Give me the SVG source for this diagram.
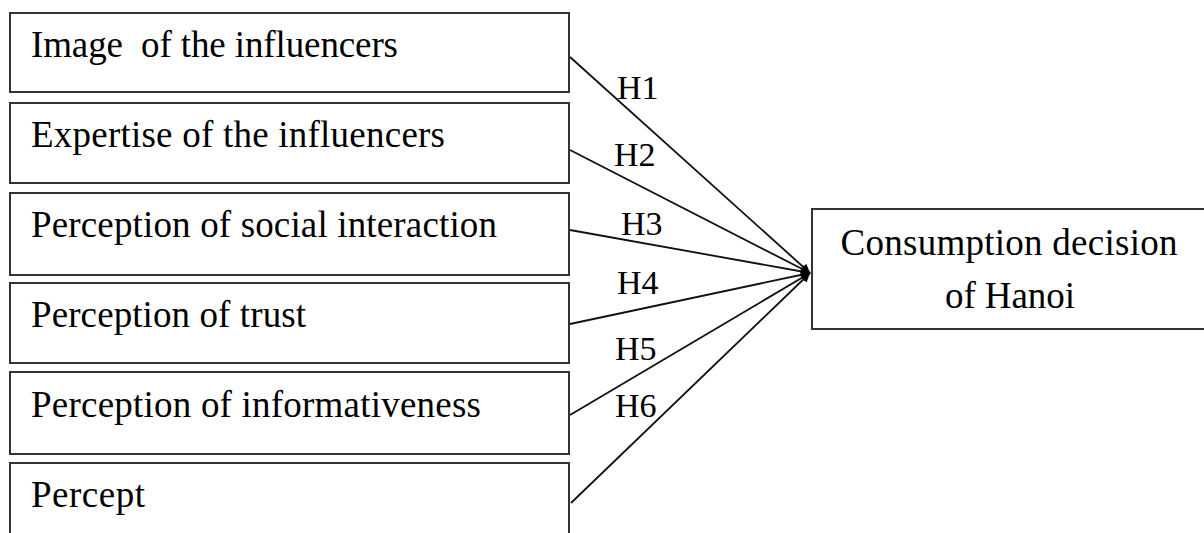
<svg xmlns="http://www.w3.org/2000/svg" width="1204" height="533" viewBox="0 0 1204 533">
  <style>
    .box { fill: #ffffff; stroke: #333333; stroke-width: 2; }
    .lbl { font-family: "Liberation Serif", "Times New Roman", serif; font-size: 37px; fill: #000000; white-space: pre; }
    .hyp { font-family: "Liberation Serif", "Times New Roman", serif; font-size: 34px; fill: #000000; }
    .edge { stroke: #111111; stroke-width: 1.8; fill: none; marker-end: url(#arrow); }
  </style>
  <defs>
    <marker id="arrow" viewBox="0 0 10 10" refX="10" refY="5" markerWidth="13" markerHeight="9" markerUnits="userSpaceOnUse" orient="auto">
      <path d="M0,0 L10,5 L0,10 z" fill="#000000"/>
    </marker>
  </defs>
  <rect width="1204" height="533" fill="#ffffff"/>

  <!-- factor boxes -->
  <g id="node-image">
    <rect class="box" x="10" y="13" width="559" height="79"/>
    <text class="lbl" x="31" y="57" textLength="367">Image  of the influencers</text>
  </g>
  <g id="node-expertise">
    <rect class="box" x="10" y="103" width="559" height="80"/>
    <text class="lbl" x="31" y="147" textLength="414">Expertise of the influencers</text>
  </g>
  <g id="node-social">
    <rect class="box" x="10" y="193" width="559" height="82"/>
    <text class="lbl" x="31" y="237" textLength="466">Perception of social interaction</text>
  </g>
  <g id="node-trust">
    <rect class="box" x="10" y="283" width="559" height="80"/>
    <text class="lbl" x="31" y="327" textLength="275">Perception of trust</text>
  </g>
  <g id="node-informativeness">
    <rect class="box" x="10" y="372" width="559" height="82"/>
    <text class="lbl" x="31" y="417" textLength="450">Perception of informativeness</text>
  </g>
  <g id="node-percept">
    <rect class="box" x="10" y="463" width="559" height="90"/>
    <text class="lbl" x="31" y="507" textLength="114">Percept</text>
  </g>

  <!-- outcome box -->
  <g id="node-decision">
    <rect class="box" x="812" y="209" width="400" height="120"/>
    <text class="lbl" x="1009" y="255" text-anchor="middle" textLength="337">Consumption decision</text>
    <text class="lbl" x="1010" y="308" text-anchor="middle" textLength="130">of Hanoi</text>
  </g>

  <!-- hypothesis paths -->
  <g id="connectors">
    <line class="edge" x1="570" y1="57" x2="810" y2="273"/>
    <line class="edge" x1="570" y1="150" x2="810" y2="273"/>
    <line class="edge" x1="570" y1="230" x2="810" y2="273"/>
    <line class="edge" x1="570" y1="324" x2="810" y2="273"/>
    <line class="edge" x1="570" y1="415" x2="810" y2="273"/>
    <line class="edge" x1="571" y1="503" x2="810" y2="273"/>
    <text class="hyp" x="617" y="99">H1</text>
    <text class="hyp" x="614" y="166">H2</text>
    <text class="hyp" x="621" y="235">H3</text>
    <text class="hyp" x="617" y="294">H4</text>
    <text class="hyp" x="615" y="360">H5</text>
    <text class="hyp" x="615" y="417">H6</text>
  </g>
</svg>
